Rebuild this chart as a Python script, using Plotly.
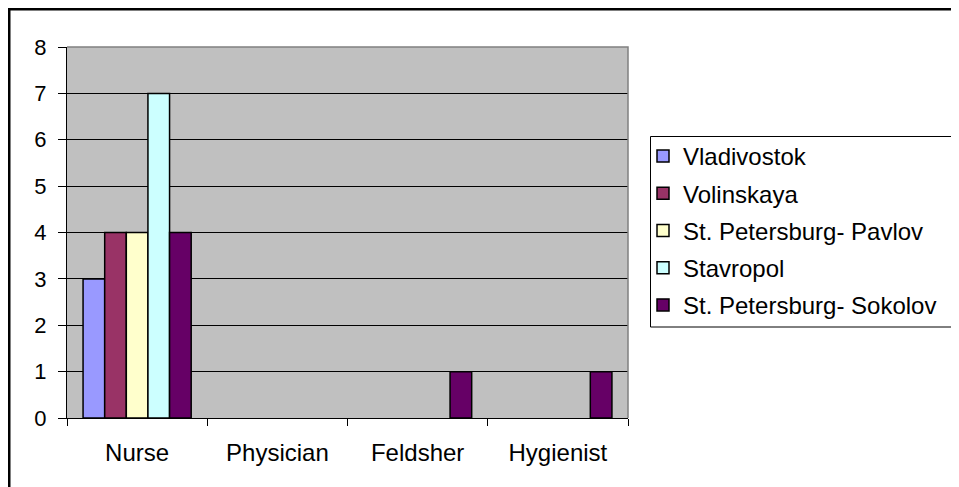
import plotly.graph_objects as go

categories = ["Nurse", "Physician", "Feldsher", "Hygienist"]
series_names = ["Vladivostok", "Volinskaya", "St. Petersburg- Pavlov", "Stavropol", "St. Petersburg- Sokolov"]
vladivostok = [3, 0, 0, 0]
volinskaya = [4, 0, 0, 0]
pavlov = [4, 0, 0, 0]
stavropol = [7, 0, 0, 0]
sokolov = [4, 0, 1, 1]
series_values = [vladivostok, volinskaya, pavlov, stavropol, sokolov]
colors = ["#9999FF", "#993366", "#FFFFCC", "#CCFFFF", "#660066"]
y_ticks = [0, 1, 2, 3, 4, 5, 6, 7, 8]

# page body has an 8px margin, so work in figure coordinates = screen - 8
OFF = 8
W, H = 959 - OFF, 487 - OFF
L, R, T, B = 67 - OFF, 628 - OFF, 47 - OFF, 418 - OFF
pw, ph = R - L, B - T

fig = go.Figure()
for i, (name, vals, col) in enumerate(zip(series_names, series_values, colors)):
    fig.add_trace(go.Bar(
        x=categories, y=vals, name=name, legendgroup=str(i),
        marker=dict(color=col, line=dict(color="black",
                                         width=[1.5 if v else 0 for v in vals])),
    ))

def px_x(x):
    return (x - OFF - L) / pw

def px_y(y):
    return (B - (y - OFF)) / ph

def open_path(pts):
    return "M " + " L ".join(f"{px_x(a):.5f},{px_y(b):.5f}" for a, b in pts)

FONT = "Liberation Sans, Arial, sans-serif"

fig.update_layout(
    width=W, height=H,
    margin=dict(l=L, r=W - R, t=T, b=H - B, autoexpand=False),
    paper_bgcolor="white",
    plot_bgcolor="#C0C0C0",
    barmode="group",
    bargap=0.229,
    bargroupgap=0,
    font=dict(family=FONT, size=24, color="black"),
    legend=dict(
        x=px_x(643), y=px_y(134), xanchor="left", yanchor="top",
        borderwidth=0, bgcolor="rgba(0,0,0,0)",
        font=dict(family=FONT, size=24, color="black"),
        tracegroupgap=3,
    ),
    xaxis=dict(
        showline=True, linecolor="black", linewidth=1,
        ticks="outside", ticklen=7, tickcolor="black", tickson="boundaries",
        showgrid=False, ticklabelstandoff=13,
        tickfont=dict(size=24),
    ),
    yaxis=dict(
        range=[0, 8], tickvals=y_ticks,
        showline=True, linecolor="black", linewidth=1,
        ticks="outside", ticklen=8, tickcolor="black",
        showgrid=True, gridcolor="black", gridwidth=1,
        zeroline=False, ticklabelstandoff=7,
        tickfont=dict(size=22),
    ),
    shapes=[
        dict(type="path", xref="paper", yref="paper", layer="above",
             path="M 0,1 L 1,1 L 1,0", line=dict(color="#808080", width=1.5)),
        dict(type="path", xref="paper", yref="paper", layer="below",
             path=open_path([(975, 136.5), (650.5, 136.5), (650.5, 327), (975, 327)]),
             line=dict(color="black", width=1)),
        dict(type="path", xref="paper", yref="paper", layer="above",
             path=open_path([(9, 520), (9, 9), (1000, 9)]),
             line=dict(color="black", width=3)),
    ],
)

fig.write_html("out.html")
